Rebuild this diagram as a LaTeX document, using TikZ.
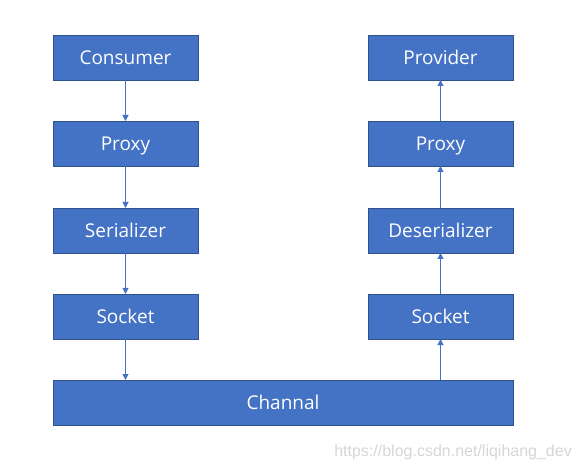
\documentclass[tikz,border=0pt]{standalone}
\usepackage{fontspec}
\setmainfont{Open Sans}
\newfontfamily\markfont{Liberation Sans}
\usepackage{tikz}
\usetikzlibrary{arrows.meta}
\definecolor{boxblue}{HTML}{4472C4}
\definecolor{boxedge}{HTML}{2F528F}
\tikzset{
  stage/.style = {draw=boxedge, line width=0.9pt, fill=boxblue, text=white,
                  minimum width=145pt, minimum height=45pt, inner sep=0pt,
                  outer sep=0pt, text height=13.6pt, text depth=0pt,
                  font=\fontsize{19}{19}\selectfont},
  flow/.style  = {-{Triangle[length=6pt,width=6pt]}, boxblue, line width=1pt},
}
\begin{document}
\begin{tikzpicture}[x=1pt,y=-1pt]
  \useasboundingbox (0,0) rectangle (581,470);
  % client side
  \node[stage] (consumer) at (125.5,57.5)  {Consumer};
  \node[stage] (lproxy)   at (125.5,143.5) {Proxy};
  \node[stage] (ser)      at (125.5,230.5) {Serializer};
  \node[stage] (lsock)    at (125.5,316.5) {Socket};
  % server side
  \node[stage] (provider) at (440.5,57.5)  {Provider};
  \node[stage] (rproxy)   at (440.5,143.5) {Proxy};
  \node[stage] (deser)    at (440.5,230.5) {Deserializer};
  \node[stage] (rsock)    at (440.5,316.5) {Socket};
  \node[stage,minimum width=460pt] (chan) at (283,402.5) {Channal};
  \draw[flow] (consumer) -- (lproxy);
  \draw[flow] (lproxy) -- (ser);
  \draw[flow] (ser) -- (lsock);
  \draw[flow] (lsock) -- (lsock |- chan.north);
  \draw[flow] (rsock |- chan.north) -- (rsock);
  \draw[flow] (rsock) -- (deser);
  \draw[flow] (deser) -- (rproxy);
  \draw[flow] (rproxy) -- (provider);
  \node[font=\fontsize{16}{16}\markfont, text=black!16, anchor=east,
        inner sep=0pt] (mark) at (572,452) {https://blog.csdn.net/liqihang\_dev};
\end{tikzpicture}
\end{document}
